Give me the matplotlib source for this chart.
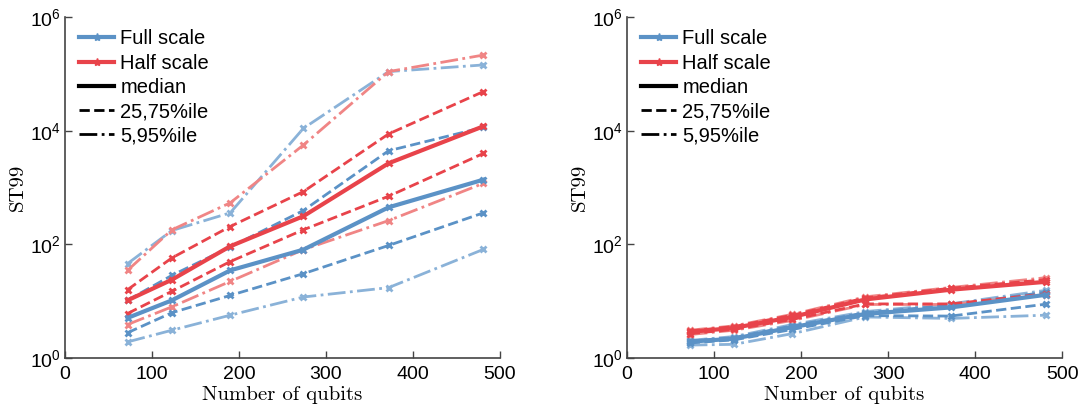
import numpy as np
import matplotlib
matplotlib.use("Agg")
from matplotlib import pyplot as plt
from matplotlib.lines import Line2D
from matplotlib.ticker import NullLocator, LogLocator

plt.rcParams['font.family'] = ['Liberation Sans', 'DejaVu Sans']

##########################
# data
##########################
qubits = [72, 123, 190, 274, 372, 481]

# left panel
full_med = [5.1, 10.4, 35, 81, 450, 1380]
full_q25 = [2.8, 6.3, 12.7, 30.6, 96, 360]
full_q75 = [10.4, 28.6, 90, 395, 4450, 11500]
full_p05 = [1.93, 3.1, 5.7, 11.9, 17.4, 82]
full_p95 = [46, 176, 360, 11000, 110000, 144000]

half_med = [10.4, 24, 93, 314, 2680, 12000]
half_q25 = [6.1, 15, 50, 181, 705, 4000]
half_q75 = [16, 58, 207, 850, 8800, 49000]
half_p05 = [3.9, 8, 22.4, 81, 263, 1190]
half_p95 = [35, 181, 540, 5600, 110000, 215000]

# right panel
full_med_r = [1.95, 2.2, 3.5, 6.0, 7.8, 13]
full_q25_r = [1.85, 2.1, 3.2, 5.6, 5.5, 8.9]
full_q75_r = [2.0, 2.3, 3.7, 6.3, 8.5, 14.5]
full_p05_r = [1.7, 1.75, 2.7, 5.3, 5.0, 5.7]
full_p95_r = [2.05, 2.4, 3.9, 6.6, 9.0, 15.6]

half_med_r = [2.9, 3.4, 5.3, 10.8, 16, 22]
half_q25_r = [2.7, 3.2, 4.8, 9.0, 9.0, 13.5]
half_q75_r = [3.0, 3.6, 5.7, 11.5, 17, 24]
half_p05_r = [2.6, 3.1, 4.6, 8.8, 8.8, 13]
half_p95_r = [3.1, 3.7, 5.9, 12, 17.5, 26]

blue = '#5b92c6'
red = '#e8434a'
blue_lt = '#8ab2d8'
red_lt = '#f08585'

fig = plt.figure(figsize=(10.81, 4.07), dpi=100)
ax1 = fig.add_axes([0.060, 0.120, 0.4025, 0.838])
ax2 = fig.add_axes([0.580, 0.120, 0.4025, 0.838])


def draw(ax, fm, f25, f75, f05, f95, hm, h25, h75, h05, h95):
    mk = dict(marker='x', ms=5, mew=2)
    # 5/95 percentiles (lighter)
    ax.plot(qubits, f05, '-.', color=blue_lt, lw=2, **mk)
    ax.plot(qubits, f95, '-.', color=blue_lt, lw=2, **mk)
    ax.plot(qubits, h05, '-.', color=red_lt, lw=2, **mk)
    ax.plot(qubits, h95, '-.', color=red_lt, lw=2, **mk)
    # 25/75 percentiles
    ax.plot(qubits, f25, '--', color=blue, lw=2, **mk)
    ax.plot(qubits, f75, '--', color=blue, lw=2, **mk)
    ax.plot(qubits, h25, '--', color=red, lw=2, **mk)
    ax.plot(qubits, h75, '--', color=red, lw=2, **mk)
    # medians
    ax.plot(qubits, fm, '-', color=blue, lw=3, **mk)
    ax.plot(qubits, hm, '-', color=red, lw=3, **mk)

    ax.set_yscale('log')
    ax.set_xlim(0, 500)
    ax.set_ylim(1, 1e6)
    ax.set_xticks([0, 100, 200, 300, 400, 500])
    ax.yaxis.set_major_locator(LogLocator(base=100))
    ax.yaxis.set_minor_locator(NullLocator())
    for s in ['top', 'right']:
        ax.spines[s].set_visible(False)
    for s in ['left', 'bottom']:
        ax.spines[s].set_color('#444444')
        ax.spines[s].set_linewidth(1.2)
    ax.tick_params(direction='in', length=5, width=1, labelsize=14,
                   color='#444444', pad=3)
    ax.tick_params(axis='x', pad=6)
    ax.set_xlabel("Number of qubits", fontfamily='cmr10', fontsize=15, labelpad=2)
    ax.set_ylabel("ST99", fontfamily='cmr10', fontsize=15, labelpad=2)

    handles = [
        Line2D([], [], color=blue, lw=3, marker='*', ms=6),
        Line2D([], [], color=red, lw=3, marker='*', ms=6),
        Line2D([], [], color='black', lw=3),
        Line2D([], [], color='black', lw=2, ls='--'),
        Line2D([], [], color='black', lw=2, ls='-.'),
    ]
    labels = ["Full scale", "Half scale", "median", "25,75%ile", "5,95%ile"]
    ax.legend(handles, labels, loc='upper left', frameon=False, fontsize=14.5,
              handlelength=1.75, handletextpad=0.3, labelspacing=0.26,
              borderaxespad=0.3, bbox_to_anchor=(0.0, 1.005))


draw(ax1, full_med, full_q25, full_q75, full_p05, full_p95,
     half_med, half_q25, half_q75, half_p05, half_p95)
draw(ax2, full_med_r, full_q25_r, full_q75_r, full_p05_r, full_p95_r,
     half_med_r, half_q25_r, half_q75_r, half_p05_r, half_p95_r)

fig.savefig("out.png", dpi=100)
